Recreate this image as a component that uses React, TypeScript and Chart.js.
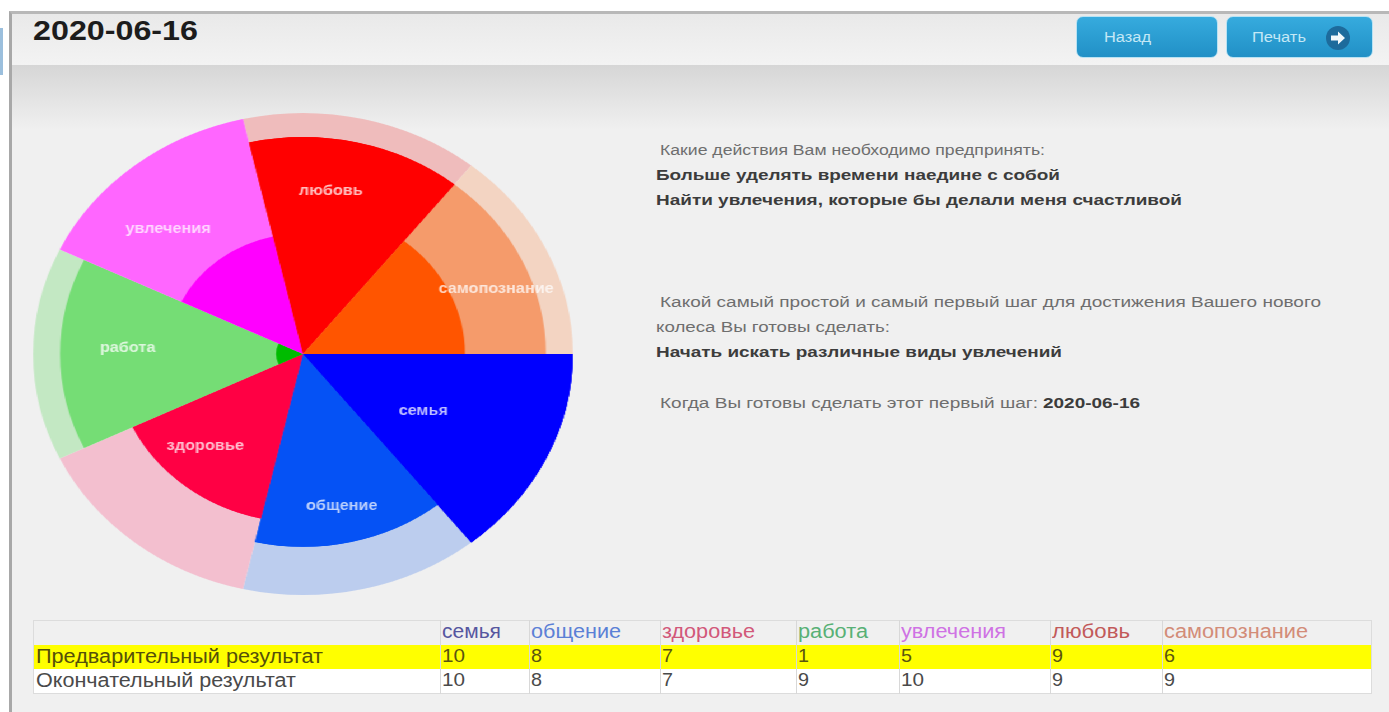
import React, { useEffect, useLayoutEffect, useRef } from "react";
import { Chart, registerables } from "chart.js";

Chart.register(...registerables);

const categories = ["семья", "общение", "здоровье", "работа", "увлечения", "любовь", "самопознание"];
const preliminary = [10, 8, 7, 1, 5, 9, 6];
const finalResult = [10, 8, 7, 9, 10, 9, 9];
const fullScale = [10, 10, 10, 10, 10, 10, 10];

const strongColors = ["#0000ff", "#0552f5", "#ff0044", "#00bb00", "#ff00ff", "#ff0000", "#ff5500"];
const finalColors = ["#0000ff", "#0552f5", "#ff0044", "#75dd75", "#ff66ff", "#ff0000", "#f59b6b"];
const paleColors = ["#0000ff", "#bccdee", "#f3bfcf", "#c3e8c3", "#f9c8f9", "#efbcbc", "#f3d4c2"];

const labelDepth = [5.05, 6.45, 5.25, 6.5, 7.2, 6.85, 7.65];
const labelTurn = [2.3, 0, 5, 2.2, -5.4, -4.2, 5];

const headerColors = ["#56569f", "#5b80d6", "#d2587a", "#58b076", "#cf72e4", "#c25a5a", "#d38c78"];
const columnStarts = [440, 529, 660, 796, 899, 1050, 1162];
const headerWidths = [59, 90, 93, 70, 105, 78, 144];
const tableEnd = 1372;

const STRETCH = 1.12;

const sliceLabels = {
  id: "sliceLabels",
  afterDatasetsDraw(chart: any) {
    const { ctx } = chart;
    const scale = chart.scales.r;
    const arcs = chart.getDatasetMeta(0).data;
    ctx.save();
    ctx.font = "bold 14.5px 'Liberation Sans'";
    ctx.fillStyle = "rgba(255,255,255,0.75)";
    ctx.textAlign = "center";
    ctx.textBaseline = "middle";
    categories.forEach((name, i) => {
      const arc = arcs[i];
      const mid = (arc.startAngle + arc.endAngle) / 2 + (labelTurn[i] * Math.PI) / 180;
      const r = scale.getDistanceFromCenterForValue(labelDepth[i]);
      ctx.fillText(name, arc.x + Math.cos(mid) * r, arc.y + Math.sin(mid) * r);
    });
    ctx.restore();
  },
};

function Fit({ x, y, w, size, bold, color, children }: any) {
  const ref = useRef<HTMLDivElement>(null);
  useLayoutEffect(() => {
    const el = ref.current!;
    el.style.transform = "none";
    el.style.transform = `scaleX(${w / el.getBoundingClientRect().width})`;
  }, [w]);
  return (
    <div
      ref={ref}
      style={{
        position: "absolute",
        left: x,
        top: y - size * 0.6,
        display: "inline-block",
        transformOrigin: "0 0",
        whiteSpace: "nowrap",
        fontFamily: "'Liberation Sans', Arial, sans-serif",
        fontSize: size,
        lineHeight: 1.2,
        fontWeight: bold ? 700 : 400,
        color,
      }}
    >
      {children}
    </div>
  );
}

function Box({ x, y, w, h, style }: any) {
  return <div style={{ position: "absolute", left: x, top: y, width: w, height: h, boxSizing: "border-box", ...style }} />;
}

export default function App() {
  const canvasRef = useRef<HTMLCanvasElement>(null);
  useEffect(() => {
    const chart = new Chart(canvasRef.current!, {
      type: "polarArea",
      data: {
        labels: categories,
        datasets: [
          { label: "Предварительный результат", data: preliminary, backgroundColor: strongColors, borderWidth: 0 },
          { label: "Окончательный результат", data: finalResult, backgroundColor: finalColors, borderWidth: 0 },
          { label: "Максимум", data: fullScale, backgroundColor: paleColors, borderWidth: 0 },
        ],
      },
      options: {
        responsive: false,
        animation: false,
        layout: { padding: 9 },
        plugins: { legend: { display: false }, tooltip: { enabled: false } },
        scales: {
          r: {
            min: 0,
            max: 10,
            startAngle: 90,
            display: false,
            ticks: { display: false },
            grid: { display: false },
            angleLines: { display: false },
            pointLabels: { display: false },
          },
        },
      },
      plugins: [sliceLabels],
    } as any);
    return () => chart.destroy();
  }, []);

  const rowLabelX = 36;
  const gray = "#6e6e6e";
  const dark = "#3c3c3c";
  const cellBorder = "1px solid #dcdcdc";

  return (
    <div style={{ position: "fixed", left: 0, top: 0, width: 1389, height: 712, overflow: "hidden", background: "#ffffff", filter: "blur(0.6px)" }}>
      <Box x={0} y={28} w={3} h={47} style={{ background: "#9bbfdd" }} />
      <Box x={9} y={11} w={1380} h={701} style={{ background: "#f0f0f0", borderLeft: "3px solid #a8a8a8", borderTop: "3px solid #b8b8b8" }} />
      <Box x={12} y={14} w={1377} h={51} style={{ background: "linear-gradient(#e9e9e9,#f3f3f3)" }} />
      <Box x={12} y={65} w={1377} h={65} style={{ background: "linear-gradient(#d6d6d6,#f0f0f0)" }} />

      <Fit x={33} y={31} w={165} size={28} bold color="#1c1c1c">2020-06-16</Fit>

      <Box x={1076} y={16} w={142} h={42} style={{ borderRadius: 7, background: "linear-gradient(#36abde,#2190c6)", border: "1px solid #b8e2f3" }} />
      <Box x={1226} y={16} w={147} h={42} style={{ borderRadius: 7, background: "linear-gradient(#36abde,#2190c6)", border: "1px solid #b8e2f3" }} />
      <Fit x={1104} y={37} w={47} size={14} color="#c4e8f6">Назад</Fit>
      <Fit x={1252} y={37} w={54} size={14} color="#c4e8f6">Печать</Fit>
      <svg style={{ position: "absolute", left: 1325, top: 25 }} width={26} height={26} viewBox="0 0 26 26">
        <circle cx={13} cy={13} r={12} fill="#1d6b9c" />
        <path d="M6 10.5h7V6.5l7 6.5-7 6.5v-4H6z" fill="#f2f8fb" />
      </svg>

      <div style={{ position: "absolute", left: 303 - 250, top: 354 - 250, width: 500, height: 500, transform: `scaleX(${STRETCH})`, transformOrigin: "50% 50%" }}>
        <canvas ref={canvasRef} width={500} height={500} style={{ display: "block" }} />
      </div>

      <Fit x={660} y={150} w={385} size={15.5} color={gray}>Какие действия Вам необходимо предпринять:</Fit>
      <Fit x={656} y={175} w={404} size={15.5} bold color={dark}>Больше уделять времени наедине с собой</Fit>
      <Fit x={656} y={200} w={526} size={15.5} bold color={dark}>Найти увлечения, которые бы делали меня счастливой</Fit>
      <Fit x={660} y={302} w={661} size={15.5} color={gray}>Какой самый простой и самый первый шаг для достижения Вашего нового</Fit>
      <Fit x={656} y={327} w={234} size={15.5} color={gray}>колеса Вы готовы сделать:</Fit>
      <Fit x={656} y={352} w={406} size={15.5} bold color={dark}>Начать искать различные виды увлечений</Fit>
      <Fit x={660} y={403} w={378} size={15.5} color={gray}>Когда Вы готовы сделать этот первый шаг:</Fit>
      <Fit x={1043} y={403} w={97} size={15.5} bold color={dark}>2020-06-16</Fit>

      <Box x={33} y={620} w={tableEnd - 33} h={74} style={{ border: cellBorder }} />
      <Box x={34} y={645} w={tableEnd - 35} h={24} style={{ background: "#ffff00" }} />
      <Box x={34} y={669} w={tableEnd - 35} h={24} style={{ background: "#ffffff" }} />
      {columnStarts.map((cx) => (
        <Box key={cx} x={cx} y={620} w={1} h={74} style={{ background: "#d8d8d8" }} />
      ))}

      {categories.map((name, i) => (
        <Fit key={name} x={columnStarts[i] + 2} y={632} w={headerWidths[i]} size={19.5} color={headerColors[i]}>{name}</Fit>
      ))}

      <Fit x={rowLabelX} y={656} w={287} size={20} color="#55500a">Предварительный результат</Fit>
      <Fit x={rowLabelX} y={680} w={260} size={20} color="#4a4a4a">Окончательный результат</Fit>
      {preliminary.map((v, i) => (
        <Fit key={i} x={columnStarts[i] + 2} y={656} w={v === 10 ? 23 : 11} size={19} color="#5a5510">{String(v)}</Fit>
      ))}
      {finalResult.map((v, i) => (
        <Fit key={i} x={columnStarts[i] + 2} y={680} w={v === 10 ? 23 : 11} size={19} color="#4a4a4a">{String(v)}</Fit>
      ))}
    </div>
  );
}
